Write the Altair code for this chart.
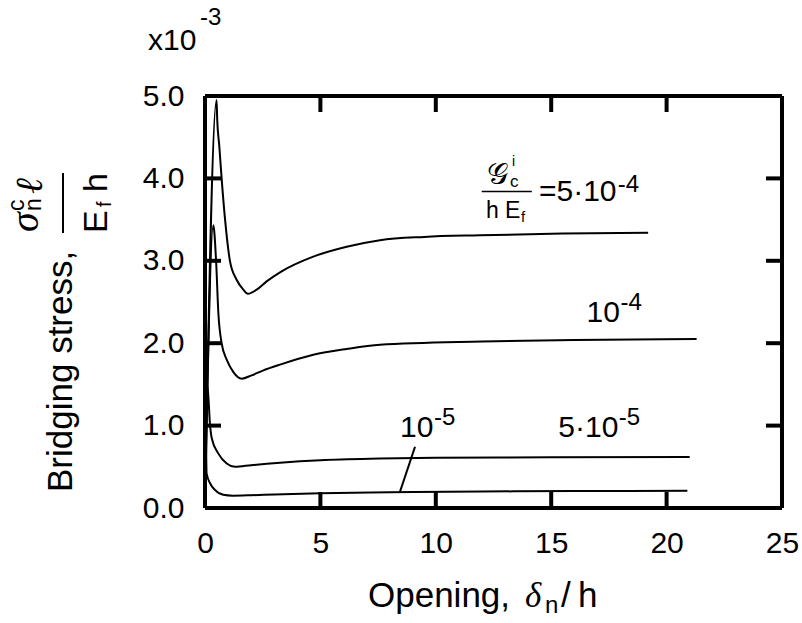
import altair as alt
import pandas as pd

# ---- data ----
x_a = [0, 0.5, 0.53, 0.62, 0.72, 0.87, 1.08, 1.37, 1.66, 1.86, 2.24, 2.67, 3.25, 4.69, 6.14, 7.58, 9.5, 11.9, 15.5, 19.2]
y_a = [0, 4.95, 4.71, 4.39, 4.0, 3.5, 3.0, 2.77, 2.65, 2.60, 2.65, 2.75, 2.86, 3.05, 3.17, 3.25, 3.29, 3.31, 3.33, 3.34]

x_b = [0, 0.36, 0.48, 0.58, 0.72, 0.94, 1.23, 1.59, 2.02, 2.53, 3.25, 4.69, 6.14, 7.58, 12, 16, 21.3]
y_b = [0, 3.43, 3.0, 2.36, 2.0, 1.80, 1.65, 1.57, 1.61, 1.67, 1.74, 1.86, 1.93, 1.98, 2.02, 2.04, 2.05]

x_c = [0, 0.1, 0.22, 0.29, 0.58, 0.94, 1.3, 2.0, 3.25, 5.0, 7.58, 10, 15, 21.0]
y_c = [0, 1.5, 1.0, 0.85, 0.66, 0.54, 0.50, 0.52, 0.55, 0.58, 0.60, 0.61, 0.615, 0.62]

x_d = [0, 0.03, 0.07, 0.22, 0.43, 0.79, 1.2, 2.0, 3.0, 5.0, 8.0, 12.0, 16.0, 20.9]
y_d = [0, 0.92, 0.42, 0.30, 0.22, 0.16, 0.15, 0.155, 0.165, 0.18, 0.19, 0.20, 0.205, 0.21]

series_names = ["5e-4", "1e-4", "5e-5", "1e-5"]

x_ticks = [0, 5, 10, 15, 20, 25]
y_ticks = [0, 1, 2, 3, 4, 5]

# curve labels (data coordinates)
lab_text = ["10", "=5\u00b710", "10", "5\u00b710"]
lab_x = [16.53, 14.47, 8.45, 15.31]
lab_y = [2.26, 3.72, 0.858, 0.858]
sup_text = ["-4", "-4", "-5", "-5"]
sup_x = [18.0, 17.88, 9.92, 17.93]
sup_y = [2.40, 3.84, 1.007, 1.007]
leader_x = [9.10]
leader_y = [0.744]
leader_x2 = [8.45]
leader_y2 = [0.198]

# ---- layout ----
W, H = 577, 412
X_MAX, Y_MAX = 25, 5
TX_LEN = 16 / H * Y_MAX
TY_LEN = 16 / W * X_MAX
INK = "black"

rows = []
for name, xs, ys in zip(series_names, [x_a, x_b, x_c, x_d], [y_a, y_b, y_c, y_d]):
    for xv, yv in zip(xs, ys):
        rows.append({"series": name, "x": xv, "y": yv})
df = pd.DataFrame(rows)

xscale = alt.Scale(domain=[0, X_MAX], nice=False, zero=False)
yscale = alt.Scale(domain=[0, Y_MAX], nice=False, zero=False)
X = lambda: alt.X("x:Q", scale=xscale, title=None)
Y = lambda: alt.Y("y:Q", scale=yscale, title=None)

lines = alt.Chart(df).mark_line(color="black", strokeWidth=2, interpolate="monotone").encode(
    x=alt.X("x:Q", scale=xscale, title=None, axis=alt.Axis(values=x_ticks, format="d")),
    y=alt.Y("y:Q", scale=yscale, title=None, axis=alt.Axis(values=y_ticks, format=".1f")),
    detail="series:N",
)

# frame: four edges as segments
edge_rows = [
    {"x": 0.0, "y": 0.0, "x2": float(X_MAX), "y2": 0.0},
    {"x": 0.0, "y": float(Y_MAX), "x2": float(X_MAX), "y2": float(Y_MAX)},
    {"x": 0.0, "y": 0.0, "x2": 0.0, "y2": float(Y_MAX)},
    {"x": float(X_MAX), "y": 0.0, "x2": float(X_MAX), "y2": float(Y_MAX)},
]
edges = alt.Chart(pd.DataFrame(edge_rows)).mark_rule(color=INK, strokeWidth=4).encode(
    x=X(), y=Y(), x2="x2:Q", y2="y2:Q"
)

tick_rows = []
for v in x_ticks[1:-1]:
    tick_rows.append({"x": float(v), "y": 0.0, "x2": float(v), "y2": TX_LEN})
    tick_rows.append({"x": float(v), "y": float(Y_MAX), "x2": float(v), "y2": Y_MAX - TX_LEN})
for v in y_ticks[1:-1]:
    tick_rows.append({"x": 0.0, "y": float(v), "x2": TY_LEN, "y2": float(v)})
    tick_rows.append({"x": float(X_MAX), "y": float(v), "x2": X_MAX - TY_LEN, "y2": float(v)})
ticks = alt.Chart(pd.DataFrame(tick_rows)).mark_rule(color=INK, strokeWidth=4).encode(
    x=X(), y=Y(), x2="x2:Q", y2="y2:Q"
)

labels = alt.Chart(pd.DataFrame({"x": lab_x, "y": lab_y, "t": lab_text})).mark_text(
    font="Liberation Sans", fontSize=30, align="left", baseline="alphabetic", color="black"
).encode(x=X(), y=Y(), text="t:N")
sups = alt.Chart(pd.DataFrame({"x": sup_x, "y": sup_y, "t": sup_text})).mark_text(
    font="Liberation Sans", fontSize=24, align="left", baseline="alphabetic", color="black"
).encode(x=X(), y=Y(), text="t:N")
leader = alt.Chart(pd.DataFrame({"x": leader_x, "y": leader_y, "x2": leader_x2, "y2": leader_y2})).mark_rule(
    color="black", strokeWidth=2
).encode(x=X(), y=Y(), x2="x2:Q", y2="y2:Q")

frac_parts = [
    ("\U0001D4A2", 12.66, 3.93, 30, "DejaVu Serif", "normal", "center"),
    ("c", 13.22, 3.89, 17, "Liberation Sans", "normal", "left"),
    ("i", 13.30, 4.15, 14, "Liberation Sans", "normal", "left"),
    ("h E", 12.17, 3.516, 23, "Liberation Sans", "normal", "left"),
    ("f", 13.69, 3.47, 15, "Liberation Sans", "normal", "left"),
]
frac_layers = []
for t, fx, fy, fs, ff, st, al in frac_parts:
    frac_layers.append(
        alt.Chart(pd.DataFrame({"x": [fx], "y": [fy], "t": [t]})).mark_text(
            font=ff, fontSize=fs, fontStyle=st, align=al, baseline="alphabetic", color="black"
        ).encode(x=X(), y=Y(), text="t:N")
    )
frac_bar = alt.Chart(pd.DataFrame({"x": [11.99], "x2": [14.16], "y": [3.84], "y2": [3.84]})).mark_rule(
    color="black", strokeWidth=1.5
).encode(x=X(), x2="x2:Q", y=Y(), y2="y2:Q")


def ptext(txt, x, y, size, font="Liberation Sans", style="normal", angle=0):
    kw = dict(text=txt, fontSize=size, font=font, fontStyle=style, align="left",
              baseline="alphabetic", color="black")
    if angle:
        kw["angle"] = angle
    return alt.Chart(pd.DataFrame({"k": [0]})).mark_text(**kw).encode(x=alt.value(x), y=alt.value(y))


def pline(x1, y1, x2, y2, sw=2):
    return alt.Chart(pd.DataFrame({"k": [0]})).mark_rule(color="black", strokeWidth=sw).encode(
        x=alt.value(x1), y=alt.value(y1), x2=alt.value(x2), y2=alt.value(y2))


deco = [
    ptext("x10", -57, -46, 30),
    ptext("-3", -5, -71, 24),
    ptext("Opening,", 163, 511, 35),
    ptext("\u03b4", 320, 511, 35, "Liberation Serif", "italic"),
    ptext("n", 340, 517, 24),
    ptext("/", 356, 511, 35),
    ptext("h", 373, 511, 35),
    ptext("Bridging stress,", -133, 396, 35, angle=270),
    ptext("\u03c3", -167, 136, 40, "Liberation Serif", "italic", angle=270),
    ptext("c", -181, 115, 23, angle=270),
    ptext("n", -164, 115, 23, angle=270),
    ptext("\u2113", -163, 98, 38, "Liberation Serif", "italic", angle=270),
    pline(-142, 77, -142, 137),
    ptext("E", -98, 137, 34, angle=270),
    ptext("f", -94, 111, 20, angle=270),
    ptext("h", -98, 96, 34, angle=270),
]

chart = alt.layer(
    lines, edges, ticks, labels, sups, leader, frac_bar, *frac_layers, *deco
).properties(
    width=W, height=H,
    autosize=alt.AutoSizeParams(type="none"),
    padding={"left": 205, "top": 96, "right": 20, "bottom": 115},
).configure_view(
    strokeWidth=0
).configure_axis(
    grid=False, domain=False, ticks=False, tickSize=0, labelFlush=False,
    labelFont="Liberation Sans", labelFontSize=30, labelColor="black",
).configure_axisX(labelPadding=20).configure_axisY(labelPadding=21)

chart.save("out.html", embed_options={"renderer": "svg", "actions": False})
